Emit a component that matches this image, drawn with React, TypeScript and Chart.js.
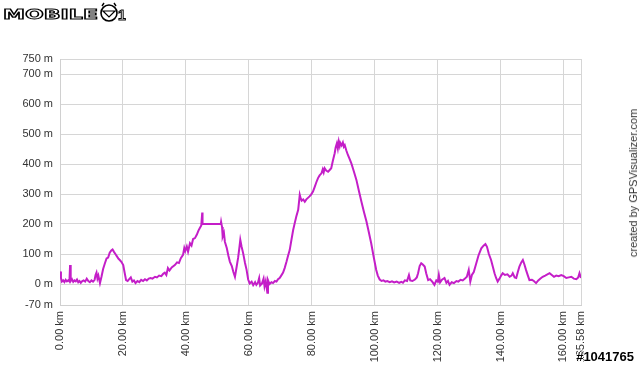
import React, { useEffect, useRef } from 'react';
import { Chart, registerables } from 'chart.js';

Chart.register(...registerables);

const DIST_KM = [
  0.0, 0.3, 0.6, 1.0, 1.4, 1.8, 2.2, 2.6, 3.0, 3.2, 3.4, 3.8, 4.2, 4.6, 5.0, 5.4, 5.8, 6.2, 6.6, 7.0,
  7.5, 8.0, 8.5, 9.0, 9.5, 10.0, 10.5, 11.0, 11.3, 11.6, 11.9, 12.2, 12.7, 13.2, 13.7, 14.3, 14.8, 15.3, 15.8, 16.3,
  16.7, 17.1, 17.6, 18.1, 18.6, 19.0, 19.5, 20.1, 20.5, 21.0, 21.5, 22.0, 22.5, 23.0, 23.5, 24.0, 24.6, 25.2, 25.8, 26.4,
  27.0, 27.6, 28.2, 28.8, 29.4, 30.2, 30.8, 31.5, 32.2, 32.8, 33.3, 33.8, 34.3, 34.8, 35.5, 36.5, 37.2, 37.8, 38.4, 39.1,
  39.5, 39.8, 40.3, 40.7, 41.3, 41.8, 42.3, 42.9, 43.5, 44.0, 44.4, 44.9, 45.2, 45.3, 46.5, 48.0, 50.0, 51.1, 51.2, 51.5,
  51.7, 52.1, 52.4, 53.0, 53.5, 54.0, 54.6, 55.1, 55.6, 56.1, 56.6, 57.0, 57.3, 57.7, 58.2, 58.8, 59.3, 59.8, 60.3, 60.9,
  61.4, 62.0, 62.4, 62.9, 63.3, 63.6, 64.2, 64.7, 65.0, 65.4, 65.9, 66.1, 66.6, 67.2, 67.7, 68.3, 68.8, 69.3, 69.8, 70.3,
  70.9, 71.4, 72.0, 72.5, 73.0, 73.6, 74.1, 74.6, 75.1, 75.7, 76.2, 76.5, 76.8, 77.3, 77.8, 78.3, 78.8, 79.3, 79.8, 80.4,
  80.9, 81.5, 82.0, 82.5, 83.1, 83.5, 83.8, 84.1, 84.6, 85.2, 85.7, 86.2, 86.7, 87.3, 87.6, 88.0, 88.3, 88.6, 88.9, 89.1,
  89.5, 89.9, 90.2, 90.5, 91.0, 91.5, 92.0, 92.6, 93.4, 94.2, 95.0, 95.8, 96.6, 97.4, 98.1, 98.9, 99.7, 100.5, 101.0, 101.6,
  102.2, 102.8, 103.4, 104.0, 104.8, 105.5, 106.2, 107.0, 107.8, 108.5, 109.0, 109.6, 110.3, 110.9, 111.3, 112.0, 112.8, 113.4, 113.8, 114.3,
  114.8, 115.3, 115.9, 116.4, 117.0, 117.6, 118.3, 119.0, 119.6, 120.1, 120.4, 120.8, 121.4, 122.2, 122.8, 123.3, 123.8, 124.5, 125.2, 126.0,
  126.6, 127.3, 128.0, 128.7, 129.3, 129.9, 130.4, 130.9, 131.5, 132.3, 133.0, 133.9, 134.6, 135.2, 135.7, 136.3, 137.0, 137.5, 138.1, 138.6,
  139.1, 139.7, 140.2, 140.7, 141.4, 142.2, 142.9, 143.5, 143.9, 144.5, 145.0, 145.5, 146.0, 146.6, 147.1, 147.6, 148.1, 148.7, 149.2, 150.0,
  150.6, 151.3, 152.0, 152.7, 153.4, 154.2, 154.9, 155.6, 156.3, 157.0, 157.7, 158.5, 159.3, 160.1, 160.9, 161.7, 162.5, 163.3, 164.1, 164.7,
  165.1, 165.58,
];

const ELEV_M = [
  42, 20, 8, 12, 6, 14, 9, 12, 8, 63, 10, 16, 7, 12, 9, 15, 6, 10, 4, 9,
  12, 8, 18, 10, 6, 12, 8, 14, 30, 38, 18, 28, 3, 25, 50, 70, 85, 88, 104, 112,
  115, 108, 100, 92, 84, 80, 74, 63, 40, 13, 10, 16, 22, 8, 12, 3, 10, 6, 14, 10,
  16, 12, 18, 20, 18, 24, 22, 28, 26, 34, 38, 30, 53, 45, 55, 63, 72, 70, 86, 97,
  120, 110, 125, 108, 136, 128, 150, 153, 165, 178, 186, 195, 238, 200, 200, 200, 200, 200, 207, 190,
  158, 170, 141, 120, 95, 74, 60, 40, 24, 55, 87, 120, 147, 125, 103, 70, 47, 15, 2, 8,
  -4, 6, -3, 4, 20, -5, 2, 18, -8, 10, -29, 13, 0, 6, 3, 10, 8, 16, 20, 28,
  38, 53, 75, 95, 113, 150, 180, 203, 225, 247, 297, 285, 278, 282, 274, 282, 287, 292, 298, 308,
  322, 340, 353, 362, 369, 382, 372, 386, 378, 374, 380, 386, 410, 436, 455, 469, 452, 475, 460, 470,
  462, 472, 458, 463, 445, 430, 418, 402, 375, 347, 310, 274, 240, 208, 175, 136, 90, 47, 28, 15,
  10, 12, 8, 10, 6, 9, 5, 8, 4, 7, 4, 12, 10, 30, 12, 10, 15, 22, 36, 60,
  69, 65, 58, 35, 13, 16, 8, -3, 12, 8, 30, 5, 14, 20, 4, 10, -3, 6, 3, 10,
  8, 14, 12, 18, 24, 47, 8, 30, 40, 69, 95, 119, 128, 133, 124, 100, 80, 60, 36, 20,
  8, 18, 28, 36, 30, 32, 24, 28, 36, 22, 20, 40, 58, 72, 80, 65, 47, 28, 13, 14,
  10, 3, 12, 18, 24, 28, 32, 36, 30, 24, 28, 26, 30, 26, 20, 22, 24, 18, 16, 22,
  36, 20,
];

const X_TICKS = [0, 20, 40, 60, 80, 100, 120, 140, 160, 165.58];
const Y_TICKS = [-70, 0, 100, 200, 300, 400, 500, 600, 700, 750];

const FONT = 'Arial, "Liberation Sans", sans-serif';

export default function App() {
  const ref = useRef<HTMLCanvasElement>(null);

  useEffect(() => {
    document.body.style.margin = '0';
    document.body.style.overflow = 'hidden';
    const canvas = ref.current;
    if (!canvas) return;
    const chart = new Chart(canvas, {
      type: 'line',
      data: {
        datasets: [
          {
            data: DIST_KM.map((x, i) => ({ x, y: ELEV_M[i] })),
            borderColor: '#c41ec8',
            borderWidth: 2,
            pointRadius: 0,
            tension: 0,
            fill: false,
          },
        ],
      },
      options: {
        responsive: false,
        animation: false,
        devicePixelRatio: 1,
        layout: { padding: { left: 0, top: 59, right: 59, bottom: 0 } },
        plugins: { legend: { display: false }, tooltip: { enabled: false } },
        scales: {
          x: {
            type: 'linear',
            min: 0,
            max: 165.58,
            afterBuildTicks: (s: any) => {
              s.ticks = X_TICKS.map((v) => ({ value: v }));
            },
            afterFit: (s: any) => {
              s.height = 61;
            },
            grid: { color: '#d6d6d6', lineWidth: 1, drawTicks: false },
            border: { color: '#d0d0d0', width: 1 },
            ticks: {
              autoSkip: false,
              minRotation: 90,
              maxRotation: 90,
              padding: 6,
              color: '#333333',
              font: { size: 11, family: FONT },
              callback: (v: any) => Number(v).toFixed(2) + ' km',
            },
          },
          y: {
            type: 'linear',
            min: -70,
            max: 750,
            afterBuildTicks: (s: any) => {
              s.ticks = Y_TICKS.map((v) => ({ value: v }));
            },
            afterFit: (s: any) => {
              s.width = 60;
            },
            grid: { color: '#d6d6d6', lineWidth: 1, drawTicks: false },
            border: { color: '#d0d0d0', width: 1 },
            ticks: {
              autoSkip: false,
              padding: 7,
              color: '#333333',
              font: { size: 11, family: FONT },
              callback: (v: any) => v + ' m',
            },
          },
        },
      },
    });
    return () => chart.destroy();
  }, []);

  return (
    <div style={{ position: 'absolute', left: 0, top: 0, width: 640, height: 366, background: '#fff', overflow: 'hidden' }}>
      <canvas ref={ref} width={640} height={366} style={{ position: 'absolute', left: 0, top: 0 }} />
      <svg width={126} height={26} style={{ position: 'absolute', left: 0, top: 0 }}>
        <text
          x={3}
          y={19}
          textLength={95}
          lengthAdjust="spacingAndGlyphs"
          fontFamily='"DejaVu Sans", sans-serif'
          fontWeight="bold"
          fontSize={14}
          fill="#fff"
          stroke="#000"
          strokeWidth={1.1}
        >
          MOBILE
        </text>
        <circle cx={109} cy={13} r={8} fill="#fff" stroke="#000" strokeWidth={1.6} />
        <path d="M103 11 L115 11 L109 17 Z" fill="none" stroke="#000" strokeWidth={1.2} />
        <path d="M102 6 L104 3 M116 6 L114 3" stroke="#000" strokeWidth={1.4} />
        <text x={118} y={20} fontFamily={FONT} fontWeight="bold" fontSize={14} fill="#fff" stroke="#000" strokeWidth={1}>
          1
        </text>
      </svg>
      <div
        style={{
          position: 'absolute',
          left: 633,
          top: 183,
          transform: 'translate(-50%, -50%) rotate(-90deg)',
          whiteSpace: 'nowrap',
          fontFamily: FONT,
          fontSize: 11,
          color: '#333',
        }}
      >
        created by GPSVisualizer.com
      </div>
      <div
        style={{
          position: 'absolute',
          right: 6,
          top: 349,
          fontFamily: FONT,
          fontWeight: 'bold',
          fontSize: 13,
          lineHeight: '15px',
          color: '#000',
          textShadow: '1px 0 0 #fff, -1px 0 0 #fff, 0 1px 0 #fff, 0 -1px 0 #fff',
          whiteSpace: 'nowrap',
        }}
      >
        #1041765
      </div>
    </div>
  );
}
